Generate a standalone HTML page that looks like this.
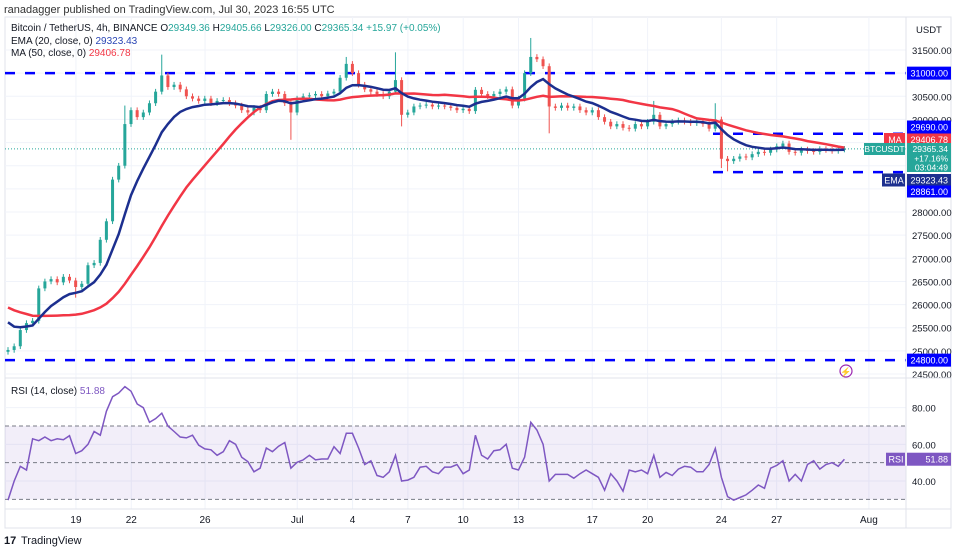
<!DOCTYPE html>
<html><head><meta charset="utf-8">
<style>
html,body{margin:0;padding:0;background:#fff;width:961px;height:550px;overflow:hidden}
svg{display:block;font-family:"Liberation Sans",sans-serif}
</style></head>
<body>
<svg id="c" width="961" height="550" viewBox="0 0 961 550">
<text x="4" y="13" font-size="11" fill="#333">ranadagger published on TradingView.com, Jul 30, 2023 16:55 UTC</text>
<rect x="5" y="17" width="946" height="511" fill="none" stroke="#e0e3eb"/>
<g id="grid"></g>
<rect x="5" y="426" width="901" height="73.3" fill="#7e57c2" fill-opacity="0.1"/>
<g id="marks"></g>
<g id="axis"></g>
<line x1="906" y1="17" x2="906" y2="528" stroke="#e0e3eb"/>
<line x1="5" y1="378" x2="951" y2="378" stroke="#e0e3eb"/>
<line x1="5" y1="509" x2="951" y2="509" stroke="#e0e3eb"/>
<text x="916" y="33" font-size="9.5" fill="#131722">USDT</text>
<g font-size="10">
<text x="11" y="31" fill="#131722">Bitcoin / TetherUS, 4h, BINANCE <tspan fill="#131722">O</tspan><tspan fill="#26a69a">29349.36 </tspan><tspan fill="#131722">H</tspan><tspan fill="#26a69a">29405.66 </tspan><tspan fill="#131722">L</tspan><tspan fill="#26a69a">29326.00 </tspan><tspan fill="#131722">C</tspan><tspan fill="#26a69a">29365.34 </tspan><tspan fill="#26a69a"> +15.97 (+0.05%)</tspan></text>
<text x="11" y="44" fill="#131722">EMA (20, close, 0) <tspan fill="#2a46b5">29323.43</tspan></text>
<text x="11" y="56" fill="#131722">MA (50, close, 0) <tspan fill="#f23645">29406.78</tspan></text>
<text x="11" y="394" fill="#131722">RSI (14, close) <tspan fill="#7e57c2">51.88</tspan></text>
</g>
<circle cx="846" cy="371" r="6" fill="none" stroke="#9c27b0" stroke-width="1.2"/>
<text x="846" y="375" font-size="9" fill="#9c27b0" text-anchor="middle">⚡</text>
<g>
<text x="4" y="544" font-size="11" font-weight="bold" fill="#131722">17</text>
<text x="21" y="544" font-size="11" fill="#131722">TradingView</text>
</g>
</svg>
<script>
const closes=[25020,25100,25450,25600,25650,26350,26500,26550,26480,26600,26520,26380,26450,26850,26900,27400,27800,28700,29000,29900,30200,30050,30150,30350,30600,30950,30700,30750,30650,30500,30450,30400,30450,30350,30400,30420,30350,30300,30200,30150,30250,30200,30550,30600,30550,30350,30150,30450,30500,30520,30550,30500,30560,30600,30900,31200,31000,30750,30650,30600,30550,30500,30600,30850,30100,30150,30280,30300,30320,30280,30300,30280,30250,30200,30230,30180,30640,30550,30500,30550,30600,30650,30300,30450,31000,31350,31300,31150,30280,30250,30300,30250,30280,30200,30150,30200,30050,29950,29850,29900,29820,29800,29900,29850,29950,30100,29850,29900,29950,29980,29950,29920,29950,29900,29800,30000,29150,29100,29150,29200,29180,29250,29300,29280,29350,29420,29480,29300,29280,29350,29320,29300,29360,29340,29320,29350,29365];
const firstOpen=24980;
const bigHighs={19:30300,25:31400,55:31350,63:31450,85:31760,105:30400,115:30350};
const bigLows={11:26150,46:29560,64:29850,88:29700,116:28950,117:28880};
const warmup=[26600,26550,26500,26550,26500,26450,26500,26400,26450,26400,26100,26000,25950,25900,25850,25800,25700,25600,25500,25400,25300,25200,25150,25050];
const emaStart=25750;
const rsi=[29.6,40,48,46,63,62,64,62,63,62.5,64.7,55,56.5,60,67,65,78,86,88,91.5,89,82,80,72,74,77,70,67,64,63.5,65,59.5,57.5,57,54,56,62,60,53,50.5,45,47,58,56,59,61,47,50.2,51.5,54,51.5,52,52,58.7,55,66,66,58,49,51,43,42,45,54,40,40.5,42,47.5,48,45,44,47.6,47.6,49,44,46,65,54,52,56.5,57,60,47,46,53,72,67.8,60,40,43.6,43.6,43.6,41.5,44,46,44,42,35,44,40,34.5,46,45,46,44,54,42,44.7,43,46.5,48,47.5,45,45,49,57.7,42,31.5,29.5,31,32.4,35,37.8,36,47,48.5,51,40,43.6,40,49,51,46.5,49,50,48,51.9];
const priceTicks=[31500,30500,30000,28000,27500,27000,26500,26000,25500,25000,24500];
const gridPrices=[31500,31000,30500,30000,29500,29000,28500,28000,27500,27000,26500,26000,25500,25000,24500];
const rsiTicks=[80,60,40];
const dateLabels=["19","22","26","Jul","4","7","10","13","17","20","24","27","Aug"];
const dateDays=[4,7,11,16,19,22,25,28,32,35,39,42,47];
const levels=[31000,24800];
const rangeLevels=[29690,28861];

const NS="http://www.w3.org/2000/svg";
const X0=8,DX=6.15;
const DAY0=2.2,DAYW=18.44;
const xb=i=>X0+i*DX;
const xd=d=>DAY0+d*DAYW;
const yp=p=>50+(31500-p)*0.04629;
const yr=r=>426-(r-70)*1.833;
function mk(tag,attrs,parent){const e=document.createElementNS(NS,tag);for(const k in attrs)e.setAttribute(k,attrs[k]);(parent||document.getElementById('marks')).appendChild(e);return e;}
const grid=document.getElementById('grid'),axis=document.getElementById('axis'),marks=document.getElementById('marks');

dateDays.forEach((d,i)=>{
 const l=mk('line',{x1:xd(d),x2:xd(d),y1:17,y2:509,stroke:'#f0f3fa'},grid);
 
 
 const t=mk('text',{x:xd(d),y:523,'font-size':10,fill:'#131722','text-anchor':'middle'},axis);
 t.textContent=dateLabels[i];
 
 
});
gridPrices.forEach(p=>{
 const l=mk('line',{x1:5,x2:906,y1:yp(p),y2:yp(p),stroke:'#f0f3fa'},grid);
 
 
});
priceTicks.forEach(p=>{
 const t=mk('text',{x:912,y:yp(p)+4,'font-size':9.5,fill:'#131722'},axis);
 t.textContent=p.toFixed(2);
 
 
});
rsiTicks.forEach(r=>{
 const l=mk('line',{x1:5,x2:906,y1:yr(r),y2:yr(r),stroke:'#f0f3fa'},grid);
 
 
 const t=mk('text',{x:912,y:yr(r)+4,'font-size':9.5,fill:'#131722'},axis);
 t.textContent=r.toFixed(2);
 
 
});
[70,50,30].forEach(r=>{
 const l=mk('line',{x1:5,x2:906,y1:yr(r),y2:yr(r),stroke:'#787b86','stroke-dasharray':'4 3','stroke-width':1});
 
 
});
levels.forEach(p=>{
 const l=mk('line',{x1:5,x2:906,y1:yp(p),y2:yp(p),stroke:'#0000ff','stroke-width':2.5,'stroke-dasharray':'10 10'});
 
 
});
rangeLevels.forEach(p=>{
 const l=mk('line',{x1:713,x2:906,y1:yp(p),y2:yp(p),stroke:'#0000ff','stroke-width':2.5,'stroke-dasharray':'10 10'});
 
 
});
const last=closes[closes.length-1];
const dl=mk('line',{x1:5,x2:906,y1:yp(last),y2:yp(last),stroke:'#26a69a','stroke-dasharray':'1 2'});



closes.forEach((c,i)=>{
 const o=i?closes[i-1]:firstOpen;
 const up=c>=o;
 const col=up?'#26a69a':'#ef5350';
 const hi=bigHighs[i]!==undefined?bigHighs[i]:Math.max(o,c)+60;
 const lo=bigLows[i]!==undefined?bigLows[i]:Math.min(o,c)-60;
 const x=xb(i);
 const w=mk('line',{x1:x,x2:x,y1:yp(hi),y2:yp(lo),stroke:col,'stroke-width':1});
 
 
 const top=yp(Math.max(o,c)),bot=yp(Math.min(o,c));
 const b=mk('rect',{x:x-1.5,y:top,width:3,height:Math.max(1,bot-top),fill:col});
 
 
});
const all=warmup.concat(closes);const W=25;
let maPts=[];
closes.forEach((c,i)=>{const j=i+warmup.length;const s=all.slice(Math.max(0,j-W+1),j+1);maPts.push([xb(i),yp(s.reduce((a,b)=>a+b,0)/s.length)]);});
const k=2/(10+1);let e=emaStart;let emaPts=[];
closes.forEach((c,i)=>{e=c*k+e*(1-k);emaPts.push([xb(i),yp(e)]);});
const pl=pts=>pts.map((p,i)=>(i?'L':'M')+p[0].toFixed(1)+' '+p[1].toFixed(1)).join('');
const ma=mk('path',{d:pl(maPts),fill:'none',stroke:'#f23645','stroke-width':2.5});


const em=mk('path',{d:pl(emaPts),fill:'none',stroke:'#1c2f8f','stroke-width':2.5});


const rp=mk('path',{d:pl(rsi.map((r,i)=>[xb(i),yr(r)])),fill:'none',stroke:'#7e57c2','stroke-width':1.5});



function badge(y,h,bg,txt,name,lab,labBg,lw){
 const g=mk('g',{},axis);
 
 
 mk('rect',{x:907,y:y-h/2,width:44,height:h,fill:bg},g);
 const t=mk('text',{x:948,y:y+3.5,'font-size':9,fill:'#fff','text-anchor':'end'},g);t.textContent=txt;
 if(lab){mk('rect',{x:906-lw,y:y-6.5,width:lw-1,height:13,fill:labBg},g);const l=mk('text',{x:906-lw/2,y:y+3.5,'font-size':9,fill:'#fff','text-anchor':'middle'},g);l.textContent=lab;}
}
badge(yp(31000),13,'#0000ff','31000.00','badge-31000');
badge(yp(24800),13,'#0000ff','24800.00','badge-24800');
badge(127,13,'#0000ff','29690.00','badge-29690');
badge(139.5,12,'#f23645','29406.78','badge-ma','MA',"#f23645",22);
const g=mk('g',{},axis);


mk('rect',{x:907,y:143,width:44,height:29,fill:'#26a69a'},g);
mk('rect',{x:864,y:143,width:41,height:12,fill:'#26a69a'},g);
[['BTCUSDT',884.5,152,'middle'],['29365.34',948,152,'end'],['+17.16%',948,161.5,'end'],['03:04:49',948,170.5,'end']].forEach(a=>{const t=mk('text',{x:a[1],y:a[2],'font-size':8.5,fill:'#fff','text-anchor':a[3]},g);t.textContent=a[0];});
badge(180,12,'#1c2f8f','29323.43','badge-ema','EMA','#1c2f8f',24);
badge(191.5,12,'#0000ff','28861.00','badge-28861');
badge(yr(51.88),13,'#7e57c2','51.88','badge-rsi','RSI','#7e57c2',20);
</script>
</body></html>
